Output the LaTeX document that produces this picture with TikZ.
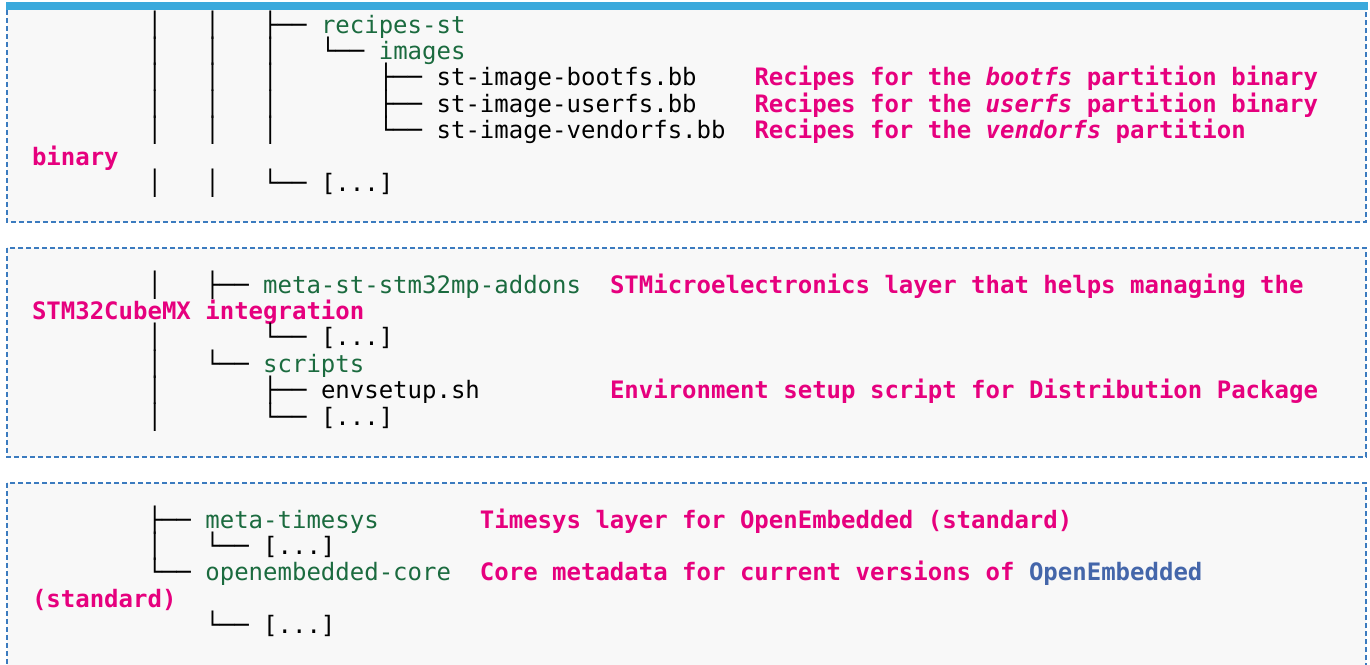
\documentclass[tikz,border=0pt]{standalone}
\usepackage{fontspec}
\setmonofont{DejaVu Sans Mono}
\definecolor{barblue}{HTML}{3AA9DC}
\definecolor{framecol}{HTML}{3B7BBF}
\definecolor{boxbg}{HTML}{F8F8F8}
\definecolor{dirgreen}{HTML}{1B6B3F}
\definecolor{stpink}{HTML}{E6007E}
\definecolor{linkblue}{HTML}{4466AA}
\def\cx#1{32+14.45*#1}
\begin{document}
\begin{tikzpicture}[x=1pt,y=-1pt,
  cell/.style={font=\ttfamily\fontsize{24}{26}\selectfont, anchor=base west, inner sep=0pt, outer sep=0pt},
  tree/.style={cell, text=black},
  dir/.style={cell, text=dirgreen},
  file/.style={cell, text=black},
  note/.style={cell, text=stpink, font=\ttfamily\bfseries\fontsize{24}{26}\selectfont},
  frame/.style={draw=framecol, line width=1.6pt, dash pattern=on 5pt off 3pt},
]
\useasboundingbox[fill=white] (0,0) rectangle (1370,664);
\clip (0,0) rectangle (1370,664);

% ---------- box 1 ----------
\fill[boxbg] (7,10) rectangle (1366,222);
\draw[frame] (7,10) -- (7,222) -- (1366,222) -- (1366,10);
\fill[barblue] (6,2) rectangle (1368,10);

\node[tree] (t10) at (\cx{8},33) {│~~~│~~~├──};
\node[dir]  (d10) at (\cx{20},33) {recipes-st};
\node[tree] (t11) at (\cx{8},59.4) {│~~~│~~~│~~~└──};
\node[dir]  (d11) at (\cx{24},59.4) {images};
\node[tree] (t12) at (\cx{8},85.8) {│~~~│~~~│~~~~~~~├──};
\node[file] (f12) at (\cx{28},85.8) {st-image-bootfs.bb};
\node[note] (n12) at (\cx{50},85.8) {Recipes for the \textit{bootfs} partition binary};
\node[tree] (t13) at (\cx{8},112.2) {│~~~│~~~│~~~~~~~├──};
\node[file] (f13) at (\cx{28},112.2) {st-image-userfs.bb};
\node[note] (n13) at (\cx{50},112.2) {Recipes for the \textit{userfs} partition binary};
\node[tree] (t14) at (\cx{8},138.6) {│~~~│~~~│~~~~~~~└──};
\node[file] (f14) at (\cx{28},138.6) {st-image-vendorfs.bb};
\node[note] (n14) at (\cx{50},138.6) {Recipes for the \textit{vendorfs} partition};
\node[note] (n15) at (\cx{0},165) {binary};
\node[tree] (t16) at (\cx{8},191.4) {│~~~│~~~└──};
\node[file] (f16) at (\cx{20},191.4) {[...]};

% ---------- box 2 ----------
\fill[boxbg] (7,248) rectangle (1366,457);
\draw[frame] (7,248) rectangle (1366,457);

\node[tree] (t20) at (\cx{8},293) {│~~~├──};
\node[dir]  (d20) at (\cx{16},293) {meta-st-stm32mp-addons};
\node[note] (n20) at (\cx{40},293) {STMicroelectronics layer that helps managing the};
\node[note] (n21) at (\cx{0},319.4) {STM32CubeMX integration};
\node[tree] (t22) at (\cx{8},345.8) {│~~~~~~~└──};
\node[file] (f22) at (\cx{20},345.8) {[...]};
\node[tree] (t23) at (\cx{8},372.2) {│~~~└──};
\node[dir]  (d23) at (\cx{16},372.2) {scripts};
\node[tree] (t24) at (\cx{8},398.6) {│~~~~~~~├──};
\node[file] (f24) at (\cx{20},398.6) {envsetup.sh};
\node[note] (n24) at (\cx{40},398.6) {Environment setup script for Distribution Package};
\node[tree] (t25) at (\cx{8},425) {│~~~~~~~└──};
\node[file] (f25) at (\cx{20},425) {[...]};

% ---------- box 3 ----------
\fill[boxbg] (7,483) rectangle (1366,720);
\draw[frame] (7,483) rectangle (1366,720);

\node[tree] (t30) at (\cx{8},528) {├──};
\node[dir]  (d30) at (\cx{12},528) {meta-timesys};
\node[note] (n30) at (\cx{31},528) {Timesys layer for OpenEmbedded (standard)};
\node[tree] (t31) at (\cx{8},554.4) {│~~~└──};
\node[file] (f31) at (\cx{16},554.4) {[...]};
\node[tree] (t32) at (\cx{8},580.8) {└──};
\node[dir]  (d32) at (\cx{12},580.8) {openembedded-core};
\node[note] (n32) at (\cx{31},580.8) {Core metadata for current versions of \textcolor{linkblue}{OpenEmbedded}};
\node[note] (n33) at (\cx{0},607.2) {(standard)};
\node[tree] (t34) at (\cx{12},633.6) {└──};
\node[file] (f34) at (\cx{16},633.6) {[...]};
\end{tikzpicture}
\end{document}
